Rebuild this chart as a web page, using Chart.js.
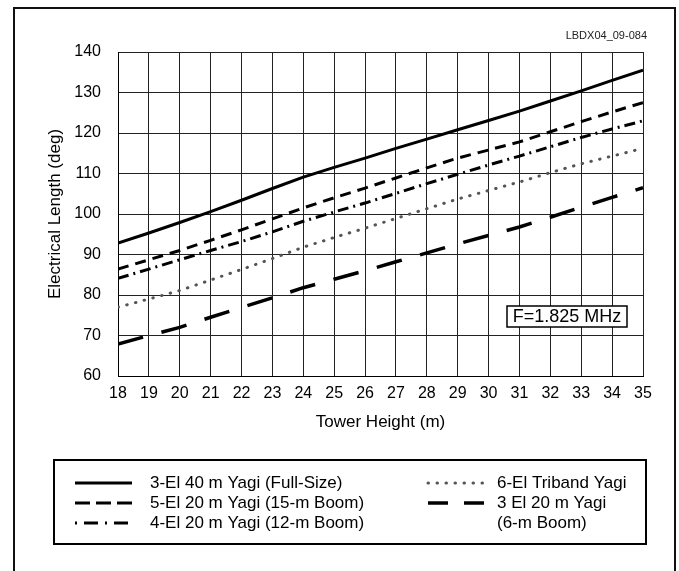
<!DOCTYPE html>
<html>
<head>
<meta charset="utf-8">
<script src="https://cdn.jsdelivr.net/npm/chart.js@4.4.1/dist/chart.umd.min.js"></script>
<style>
  body { margin: 0; background: #fff; }
  #frame { position: absolute; left: 13px; top: 7px; width: 659px; height: 620px; border: 2px solid #111; }
  #wrap { position: absolute; left: 0; top: 0; width: 679px; height: 571px; }
</style>
</head>
<body>
<div id="frame"></div>
<div id="wrap"><canvas id="chart"></canvas></div>
<script>
// Tower height (m) vs electrical length (deg)
var heights = [18, 19, 20, 21, 22, 23, 24, 25, 26, 27, 28, 29, 30, 31, 32, 33, 34, 35];

var yagi40Full  = [92.8, 95.3, 97.9, 100.6, 103.4, 106.3, 109.1, 111.5, 113.8, 116.2, 118.5, 120.8, 123.1, 125.4, 127.9, 130.4, 133.0, 135.5];
var yagi20_15m  = [86.4, 88.7, 91.0, 93.5, 96.1, 98.8, 101.5, 104.0, 106.4, 108.9, 111.4, 113.8, 115.8, 117.8, 120.3, 122.8, 125.2, 127.5];
var yagi20_12m  = [84.1, 86.4, 88.7, 91.0, 93.2, 95.6, 98.2, 100.5, 102.7, 105.1, 107.5, 109.8, 112.1, 114.3, 116.6, 118.9, 121.0, 123.0];
var triband     = [77.0, 79.0, 81.1, 83.7, 86.3, 89.0, 91.8, 94.2, 96.5, 98.9, 101.3, 103.7, 105.8, 107.9, 110.2, 112.4, 114.3, 116.2];
var yagi20_6m   = [67.9, 70.0, 72.0, 74.5, 76.9, 79.3, 81.8, 83.9, 86.0, 88.2, 90.4, 92.6, 94.7, 96.8, 99.2, 101.7, 104.1, 106.5];

var seriesNames = [
  ['3-El 40 m Yagi (Full-Size)'],
  ['5-El 20 m Yagi (15-m Boom)'],
  ['4-El 20 m Yagi (12-m Boom)'],
  ['6-El Triband Yagi'],
  ['3 El 20 m Yagi', '(6-m Boom)']
];
var yTicks = [60, 70, 80, 90, 100, 110, 120, 130, 140];
var freqLabel = 'F=1.825 MHz';
var figId = 'LBDX04_09-084';

var FONT = '"Liberation Sans", Arial, sans-serif';

function pts(vals) {
  return heights.map(function (h, i) { return { x: h, y: vals[i] }; });
}

// plot dash patterns, plus the slightly different ones used in the legend key
var styles = [
  { color: '#000', width: 3, dash: [], key: [], keyOff: 0 },
  { color: '#000', width: 3, dash: [11, 7], key: [15, 6], keyOff: 0 },
  { color: '#000', width: 3, dash: [11, 5, 2, 5], key: [14, 7, 2, 7], keyOff: 21 },
  { color: '#555', width: 3, dash: [0.5, 8.5], cap: 'round', key: [0.5, 8.5], keyOff: 0 },
  { color: '#000', width: 3.5, dash: [26, 19], key: [20, 16], keyOff: 0 }
];
var allSeries = [yagi40Full, yagi20_15m, yagi20_12m, triband, yagi20_6m];

var datasets = allSeries.map(function (vals, i) {
  var s = styles[i];
  return {
    label: seriesNames[i].join(' '),
    data: pts(vals),
    borderColor: s.color,
    borderWidth: s.width,
    borderDash: s.dash,
    borderCapStyle: s.cap || 'butt',
    pointRadius: 0,
    fill: false,
    tension: 0
  };
});

// legend box, frequency note and figure id drawn on the canvas
var extras = {
  id: 'extras',
  afterDraw: function (chart) {
    var ctx = chart.ctx;
    var area = chart.chartArea;
    ctx.save();

    // figure id
    ctx.font = '11px ' + FONT;
    ctx.fillStyle = '#222';
    ctx.textAlign = 'right';
    ctx.textBaseline = 'middle';
    ctx.fillText(figId, area.right + 4, 36);

    // frequency box
    ctx.font = '18px ' + FONT;
    var bw = 120, bh = 21;
    var bx = area.right - 16 - bw, by = 306;
    ctx.fillStyle = '#fff';
    ctx.fillRect(bx, by, bw, bh);
    ctx.lineWidth = 1.5;
    ctx.strokeStyle = '#000';
    ctx.strokeRect(bx, by, bw, bh);
    ctx.fillStyle = '#000';
    ctx.textAlign = 'center';
    ctx.fillText(freqLabel, bx + bw / 2, by + bh / 2 + 1);

    // legend
    ctx.lineWidth = 2;
    ctx.strokeRect(54, 460, 592, 84);
    var cols = [{ x0: 75, x1: 132, tx: 150 }, { x0: 428, x1: 484, tx: 497 }];
    var rows = [483, 503, 523];
    var place = [[0, 0], [0, 1], [0, 2], [1, 0], [1, 1]];
    ctx.font = '17px ' + FONT;
    ctx.textAlign = 'left';
    datasets.forEach(function (ds, i) {
      var c = cols[place[i][0]];
      var r = place[i][1];
      var y = rows[r];
      ctx.beginPath();
      ctx.setLineDash(styles[i].key);
      ctx.lineDashOffset = styles[i].keyOff;
      ctx.lineCap = ds.borderCapStyle;
      ctx.strokeStyle = ds.borderColor;
      ctx.lineWidth = ds.borderWidth;
      ctx.moveTo(c.x0, y);
      ctx.lineTo(c.x1, y);
      ctx.stroke();
      ctx.setLineDash([]);
      ctx.fillStyle = '#000';
      seriesNames[i].forEach(function (line, k) {
        ctx.fillText(line, c.tx, rows[r + k]);
      });
    });
    ctx.restore();
  }
};

new Chart(document.getElementById('chart'), {
  type: 'line',
  data: { datasets: datasets },
  options: {
    responsive: true,
    maintainAspectRatio: false,
    animation: false,
    layout: { padding: { left: 40, top: 52, right: 36, bottom: 138 } },
    plugins: { legend: { display: false }, tooltip: { enabled: false } },
    scales: {
      x: {
        type: 'linear',
        min: 18,
        max: 35,
        afterFit: function (s) { s.height = 57; },
        ticks: { stepSize: 1, padding: 8, color: '#000', font: { family: FONT, size: 16 } },
        grid: { color: '#222', lineWidth: 1, drawTicks: false },
        border: { color: '#000', width: 1 },
        title: { display: true, text: 'Tower Height (m)', color: '#000', padding: 0, font: { family: FONT, size: 17 } }
      },
      y: {
        min: 60,
        max: 140,
        afterFit: function (s) { s.width = 78; },
        afterBuildTicks: function (s) { s.ticks = yTicks.map(function (v) { return { value: v }; }); },
        ticks: { padding: 17, color: '#000', font: { family: FONT, size: 16 } },
        grid: { color: '#222', lineWidth: 1, drawTicks: false },
        border: { color: '#000', width: 1 },
        title: { display: true, text: 'Electrical Length (deg)', color: '#000', padding: { top: 5 }, font: { family: FONT, size: 17 } }
      }
    }
  },
  plugins: [extras]
});
</script>
</body>
</html>
